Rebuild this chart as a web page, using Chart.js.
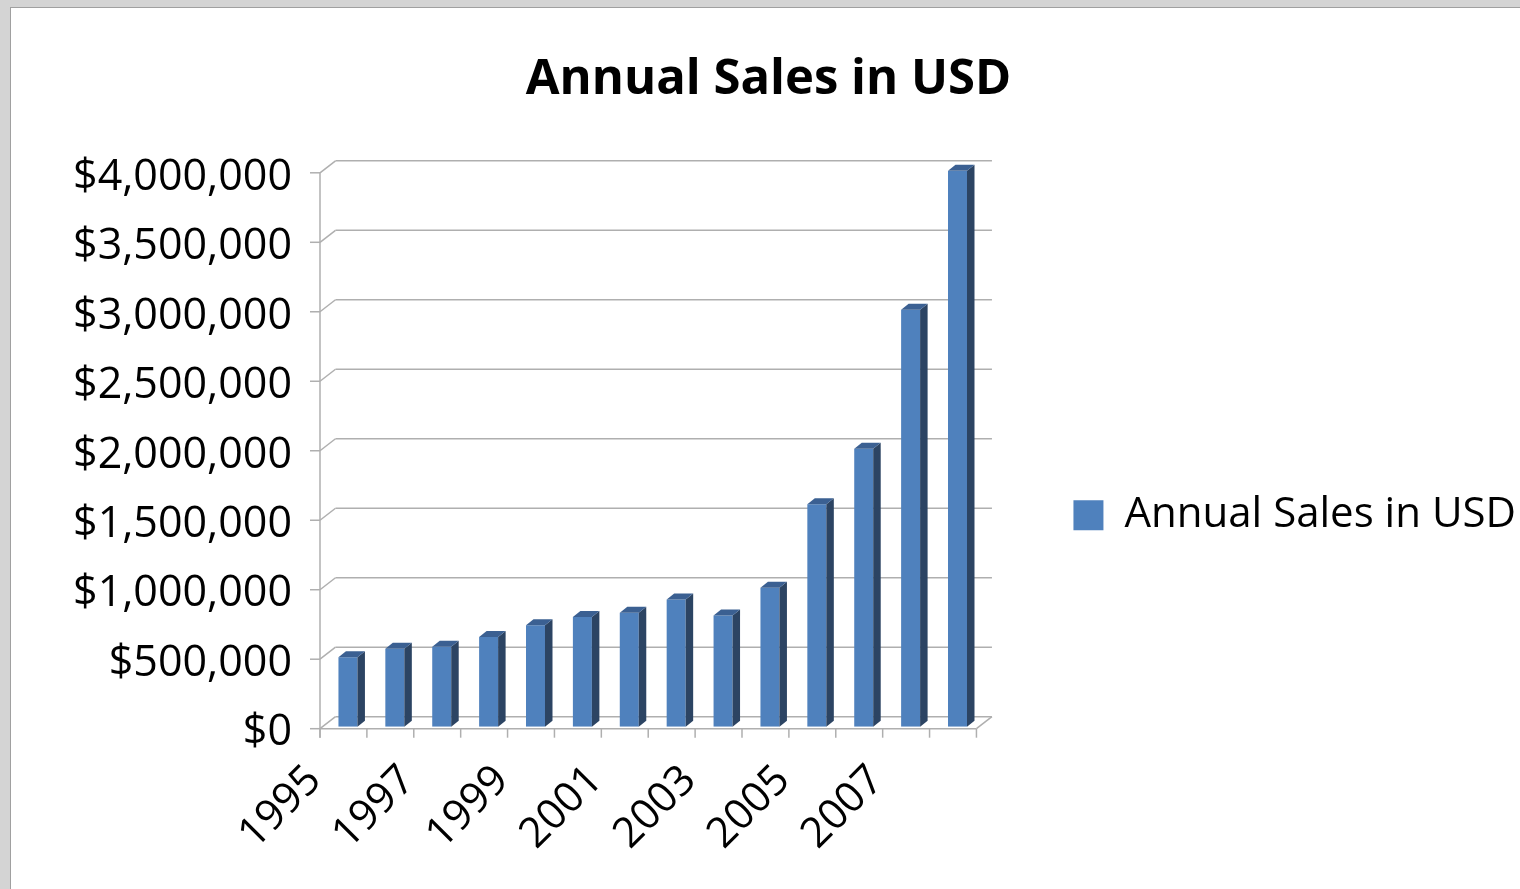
<!DOCTYPE html>
<html>
<head>
<meta charset="utf-8">
<title>Annual Sales in USD</title>
<script src="https://cdn.jsdelivr.net/npm/chart.js@4.4.0/dist/chart.umd.min.js"></script>
<style>
  body { margin: 0; background: #d4d4d4; }
  .frame {
    position: absolute; left: 10px; top: 7px;
    width: 1509px; height: 881px;
    background: #fff;
    border-left: 1px solid #a0a0a0;
    border-top: 1px solid #a0a0a0;
  }
</style>
</head>
<body>
<div class="frame"><canvas id="salesChart"></canvas></div>
<script>
const years = ["1995", "1996", "1997", "1998", "1999", "2000", "2001",
               "2002", "2003", "2004", "2005", "2006", "2007", "2008"];
const sales = [500000, 560000, 575000, 645000, 730000, 790000, 820000,
               915000, 800000, 1000000, 1600000, 2000000, 3000000, 4000000];
const yMax = 4000000;
const yStep = 500000;

const FRONT = "#4f81bd";
const SIDE = "#2c4463";
const TOP = "#3b6092";
const GRID = "#afafaf";

// back wall is offset from the front axes, bars sit half way in
const wallDx = 15.5, wallDy = -12;
const barDx = 7.5, barDy = -6;

Chart.defaults.font.family = "'Open Sans', sans-serif";
Chart.defaults.color = "#000";

const money = (v) => "$" + Number(v).toLocaleString("en-US");

function line(ctx, x1, y1, x2, y2) {
  ctx.beginPath();
  ctx.moveTo(x1, y1);
  ctx.lineTo(x2, y2);
  ctx.stroke();
}

// walls, floor and axis ticks of the 3D frame
const wallPlugin = {
  id: "wall3d",
  beforeDatasetsDraw(chart) {
    const { ctx, chartArea: a, scales: { x, y } } = chart;
    ctx.save();
    ctx.strokeStyle = GRID;
    ctx.lineWidth = 1.5;
    y.ticks.forEach((t) => {
      const py = y.getPixelForValue(t.value);
      line(ctx, a.left - 10, py, a.left, py);
      line(ctx, a.left, py, a.left + wallDx, py + wallDy);
      line(ctx, a.left + wallDx, py + wallDy, a.right + wallDx, py + wallDy);
    });
    line(ctx, a.left, a.top, a.left, a.bottom + 9);
    line(ctx, a.left, a.bottom, a.right, a.bottom);
    line(ctx, a.right, a.bottom, a.right + wallDx, a.bottom + wallDy);
    for (let i = 0; i <= years.length; i++) {
      const px = x.getPixelForValue(i - 0.5);
      line(ctx, px, a.bottom, px, a.bottom + 9);
    }
    ctx.restore();
  }
};

// pushes the bars into the depth and adds their side and top faces
const barPlugin = {
  id: "bar3d",
  beforeDatasetsDraw(chart) {
    chart.ctx.save();
    chart.ctx.translate(4.5, -2);
  },
  afterDatasetsDraw(chart) {
    const ctx = chart.ctx;
    chart.getDatasetMeta(0).data.forEach((bar) => {
      const { x, y, base, width } = bar.getProps(["x", "y", "base", "width"], true);
      const l = x - width / 2, r = x + width / 2;
      ctx.fillStyle = SIDE;
      ctx.beginPath();
      ctx.moveTo(r, y);
      ctx.lineTo(r + barDx, y + barDy);
      ctx.lineTo(r + barDx, base + barDy);
      ctx.lineTo(r, base);
      ctx.closePath();
      ctx.fill();
      ctx.fillStyle = TOP;
      ctx.beginPath();
      ctx.moveTo(l, y);
      ctx.lineTo(r, y);
      ctx.lineTo(r + barDx, y + barDy);
      ctx.lineTo(l + barDx, y + barDy);
      ctx.closePath();
      ctx.fill();
    });
    ctx.restore();
  }
};

const ctx = document.getElementById("salesChart").getContext("2d");
new Chart(ctx, {
  type: "bar",
  data: {
    labels: years,
    datasets: [
      {
        label: "Annual Sales in USD",
        data: sales,
        backgroundColor: FRONT,
        borderWidth: 0,
        barPercentage: 0.405,
        categoryPercentage: 1
      }
    ]
  },
  options: {
    responsive: true,
    maintainAspectRatio: false,
    animation: false,
    layout: { padding: { left: 0, right: -6, top: 0, bottom: 0 } },
    plugins: {
      title: {
        display: true,
        text: "Annual Sales in USD",
        font: { size: 49, weight: "bold" },
        color: "#000",
        padding: { top: 43, bottom: 63 }
      },
      legend: {
        position: "right",
        fullSize: false,
        maxWidth: 700,
        title: { display: true, text: " ", font: { size: 10 }, padding: { top: 117, bottom: 0 } },
        labels: {
          boxWidth: 30,
          boxHeight: 30,
          padding: 97,
          font: { size: 42 },
          color: "#000"
        }
      },
      tooltip: { enabled: false }
    },
    scales: {
      x: {
        grid: { display: false, drawTicks: false },
        border: { display: false },
        ticks: {
          autoSkip: false,
          minRotation: 45,
          maxRotation: 45,
          padding: 27,
          labelOffset: -29,
          font: { size: 42 },
          callback: (v, i) => (i % 2 === 0 ? years[i] : "")
        },
        afterFit: (s) => { s.height = 160.3; }
      },
      y: {
        min: 0,
        max: yMax,
        grid: { display: false, drawTicks: false },
        border: { display: false },
        ticks: {
          stepSize: yStep,
          padding: 28,
          labelOffset: 4.5,
          font: { size: 43 },
          callback: (v) => money(v)
        },
        afterFit: (s) => { s.width = 309; }
      }
    }
  },
  plugins: [wallPlugin, barPlugin]
});
</script>
</body>
</html>
